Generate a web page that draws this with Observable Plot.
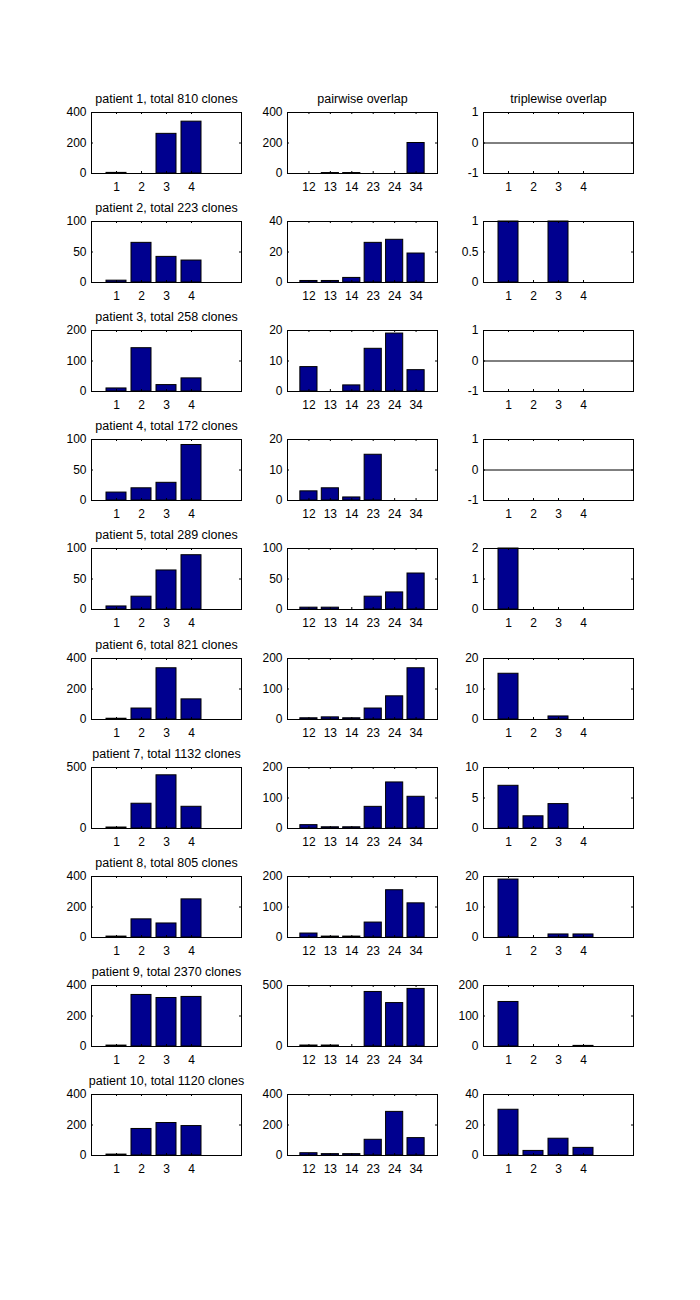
<!DOCTYPE html>
<html><head><meta charset="utf-8">
<script src="https://cdn.jsdelivr.net/npm/d3@7"></script>
<script src="https://cdn.jsdelivr.net/npm/@observablehq/plot@0.6"></script>
<style>
body{margin:0;background:#fff;}
#fig{position:relative;width:700px;height:1300px;background:#fff;overflow:hidden;}
#fig svg{position:absolute;overflow:visible;}
</style></head><body><div id="fig"></div>
<script>
const singleLabels = ["1","2","3","4"];
const pairLabels = ["12","13","14","23","24","34"];
const tripleLabels = ["1","2","3","4"];
const patients = [1,2,3,4,5,6,7,8,9,10];
const totals = [810,223,258,172,289,821,1132,805,2370,1120];
const colTitles = ["", "pairwise overlap", "triplewise overlap"];

const singleCounts = [
  [4,0,260,340],
  [3,65,42,36],
  [10,142,21,43],
  [13,20,29,91],
  [5,21,64,89],
  [5,72,336,132],
  [8,203,436,178],
  [6,119,92,250],
  [6,338,318,325],
  [6,174,213,193]
];
const pairCounts = [
  [0,3,3,0,0,200],
  [1,1,3,26,28,19],
  [8,0,2,14,19,7],
  [3,4,1,15,0,0],
  [3,3,0,21,28,59],
  [4,7,4,36,76,168],
  [11,4,4,71,151,104],
  [13,3,3,49,155,112],
  [8,8,0,447,356,472],
  [15,9,9,103,286,114]
];
const tripleCounts = [
  [0,0,0,0],
  [1,0,1,0],
  [0,0,0,0],
  [0,0,0,0],
  [2,0,0,0],
  [15,0,1,0],
  [7,2,4,0],
  [19,0,1,1],
  [146,0,0,2],
  [30,3,11,5]
];
const singleYTicks = [[0,200,400],[0,50,100],[0,100,200],[0,50,100],[0,50,100],[0,200,400],[0,500],[0,200,400],[0,200,400],[0,200,400]];
const pairYTicks = [[0,200,400],[0,20,40],[0,10,20],[0,10,20],[0,50,100],[0,100,200],[0,100,200],[0,100,200],[0,500],[0,200,400]];
const tripleYTicks = [[-1,0,1],[0,0.5,1],[-1,0,1],[-1,0,1],[0,1,2],[0,10,20],[0,5,10],[0,10,20],[0,100,200],[0,20,40]];

const W = 150, H = 61;
const ML = 40, MR = 10, MT = 24, MB = 24;
const colLeft = [91, 287, 483];
const rowTop = patients.map((_, r) => Math.round(112 + r * 109.1));
const FONT = "'Liberation Sans', Arial, Helvetica, sans-serif";

function panel(values, labels, yTicks, title) {
  const data = values.map((v, i) => ({pos: i + 1, value: v}));
  const xTicks = labels.map((_, i) => i + 1);
  const xMax = labels.length === 6 ? 7 : 6;
  const yDom = [yTicks[0], yTicks[yTicks.length - 1]];
  const marks = [
    Plot.rect(data, {x1: d => d.pos - 0.4, x2: d => d.pos + 0.4, y1: 0, y2: "value", fill: "#00008f", stroke: "#000", strokeWidth: 1}),
    Plot.ruleY([0], {stroke: "#000", strokeWidth: 1}),
    Plot.ruleX(xTicks, {x: d => d, insetTop: H - 2, stroke: "#000"}),
    Plot.ruleX(xTicks, {x: d => d, insetBottom: H - 2, stroke: "#000"}),
    Plot.ruleY(yTicks, {y: d => d, insetRight: W - 2, stroke: "#000"}),
    Plot.ruleY(yTicks, {y: d => d, insetLeft: W - 2, stroke: "#000"}),
    Plot.axisX({ticks: xTicks, tickSize: 0, tickPadding: 9, tickFormat: d => labels[d - 1], fontSize: 12, label: null}),
    Plot.axisY({ticks: yTicks, tickSize: 0, tickPadding: 5, tickFormat: d => String(d), fontSize: 12, label: null}),
    Plot.frame({stroke: "#000", strokeWidth: 1})
  ];
  if (title) marks.push(Plot.text([title], {frameAnchor: "top", dy: -10, lineAnchor: "bottom", fontSize: 12.5, fill: "#000"}));
  return Plot.plot({
    width: W + ML + MR, height: H + MT + MB,
    marginLeft: ML, marginRight: MR, marginTop: MT, marginBottom: MB,
    style: {fontFamily: FONT, fontSize: "12px", color: "#000", background: "transparent", overflow: "visible"},
    x: {type: "linear", domain: [0, xMax], axis: null, label: null},
    y: {type: "linear", domain: yDom, axis: null, label: null},
    marks
  });
}

const fig = document.getElementById("fig");
patients.forEach((p, r) => {
  const specs = [
    [singleCounts[r], singleLabels, singleYTicks[r], `patient ${p}, total ${totals[r]} clones`],
    [pairCounts[r], pairLabels, pairYTicks[r], r === 0 ? colTitles[1] : ""],
    [tripleCounts[r], tripleLabels, tripleYTicks[r], r === 0 ? colTitles[2] : ""]
  ];
  specs.forEach((s, c) => {
    const svg = panel(...s);
    svg.style.left = (colLeft[c] - ML) + "px";
    svg.style.top = (rowTop[r] - MT) + "px";
    fig.appendChild(svg);
  });
});
</script></body></html>
